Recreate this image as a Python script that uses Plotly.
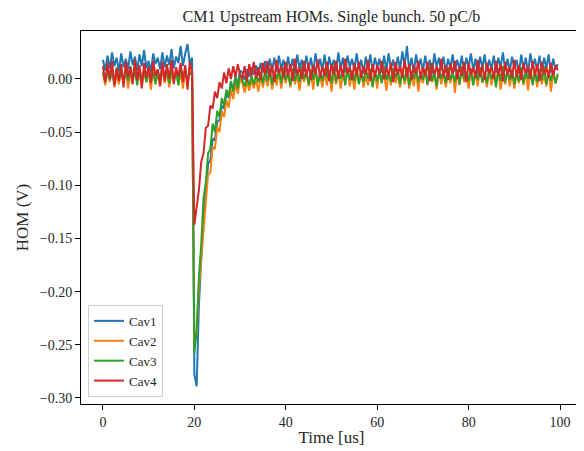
import plotly.graph_objects as go

# HOM signals in mV, sampled every 0.5 us (index 40 = 20 us, bunch passage)
t_step_us = 0.5

cav1_mv = [
    18, 8, 22, 10, 25, 12, 20, 7, 24, 11,
    19, 9, 26, 13, 21, 8, 23, 12, 27, 10,
    17, 7, 24, 14, 20, 9, 25, 11, 22, 13,
    28, 10, 21, 15, 31, 12, 24, 33, 14, 20,
    -278, -289, -212, -175, -128, -108, -80, -76, -56, -58,
    -40, -39, -25, -28, -14, -18, -4, -10, 2, -5, 8,
    6, -1, 9, 2, 11, 4, 13, 3, 15, 6,
    17, 5, 19, 8, 20, 7, 22, 9, 18, 6,
    21, 8, 19, 5, 23, 10, 18, 7, 22, 9,
    20, 6, 24, 11, 19, 8, 23, 5, 21, 10,
    18, 7, 25, 9, 20, 6, 22, 11, 19, 8,
    24, 10, 18, 5, 21, 9, 23, 7, 20, 11,
    19, 6, 22, 8, 24, 10, 18, 7, 21, 9,
    26, 12, 31, 8, 20, 6, 23, 10, 19, 7,
    22, 9, 18, 5, 24, 11, 20, 8, 21, 6,
    19, 10, 23, 7, 18, 9, 22, 6, 20, 11,
    24, 8, 19, 5, 21, 10, 23, 7, 18, 9,
    22, 6, 20, 11, 25, 8, 19, 7, 21, 10,
    18, 5, 23, 9, 20, 6, 24, 11, 19, 8,
    22, 7, 20, 10, 23, 6, 19, 9, 14,
]

cav2_mv = [
    5, -6, 8, -3, 10, -8, 4, -5, 9, -2,
    7, -9, 6, -4, 11, -1, 5, -7, 8, -3,
    6, -10, 9, -2, 4, -6, 10, -4, 7, -8,
    5, -3, 9, -5, 6, -9, 8, -1, 7, 3,
    -250, -240, -196, -170, -142, -118, -90, -88, -64, -66,
    -45, -50, -30, -36, -20, -27, -10, -19, -4, -14, 0,
    -4, -13, -2, -11, -1, -9, 0, -12, 2, -8,
    4, -7, 6, -10, 3, -6, 8, -9, 5, -4,
    7, -8, 9, -5, 4, -11, 6, -3, 8, -7,
    5, -10, 10, -4, 3, -8, 7, -6, 9, -12,
    6, -5, 8, -9, 4, -3, 11, -7, 5, -10,
    7, -4, 9, -8, 3, -6, 10, -5, 6, -9,
    8, -3, 5, -11, 7, -6, 9, -4, 4, -8,
    10, -5, 6, -9, 3, -7, 8, -12, 5, -4,
    9, -6, 7, -3, 4, -10, 8, -5, 6, -8,
    5, -4, 9, -13, 7, -6, 10, -3, 4, -9,
    8, -5, 6, -7, 11, -4, 5, -8, 9, -6,
    7, -3, 8, -10, 4, -5, 10, -7, 6, -9,
    5, -4, 9, -6, 7, -11, 8, -3, 6, -8,
    10, -5, 4, -7, 9, -12, 6, -4, 3,
]

cav3_mv = [
    7, -3, 10, -1, 8, -5, 11, 0, 6, -4,
    9, -2, 12, 1, 7, -6, 10, -1, 8, -3,
    11, 0, 6, -5, 9, -2, 12, 2, 7, -4,
    10, -1, 8, -6, 11, 1, 9, -3, 6, 4,
    -258, -236, -186, -156, -112, -98, -70, -66, -42, -50,
    -30, -36, -18, -25, -10, -17, -2, -12, 3, -9, 5,
    -1, -7, 1, -6, 3, -5, 4, -3, 6, -4,
    8, -2, 10, -5, 7, 0, 9, -4, 11, -1,
    6, -6, 10, -2, 8, -3, 12, 0, 7, -5,
    9, -1, 11, -7, 6, -2, 10, 1, 8, -4,
    12, -3, 7, 0, 9, -6, 10, -1, 8, -2,
    11, -5, 6, -3, 10, 0, 9, -8, 7, -2,
    8, -4, 12, -1, 6, -3, 10, 1, 9, -5,
    7, -2, 11, -6, 8, 0, 10, -3, 6, -1,
    9, -5, 12, -2, 7, -7, 10, 0, 8, -4,
    11, -1, 6, -3, 9, -5, 12, 0, 7, -2,
    10, -6, 8, -1, 11, -3, 6, -4, 9, 0,
    7, -8, 10, -2, 12, -3, 8, -1, 9, -5,
    6, -2, 11, -4, 8, 0, 10, -6, 7, -3,
    9, -1, 12, -5, 6, -2, 8, -4, 5,
]

cav4_mv = [
    12, -3, 15, 0, 17, -6, 10, -2, 14, -8,
    16, 2, 11, -5, 18, -1, 13, -9, 15, 1,
    12, -4, 17, 3, 9, -7, 16, -2, 14, 0,
    18, -5, 11, 2, 15, -3, 13, -10, 16, 6,
    -137, -118, -104, -78, -70, -46, -44, -25, -28, -12,
    -18, -3, -9, 6, -4, 10, 0, 12, 2, 14, 4,
    0, 12, -2, 14, 3, 16, 1, 11, -1, 15,
    4, 17, 2, 13, -3, 18, 5, 12, 1, 16,
    3, 14, -2, 19, 4, 11, 0, 17, 2, 15,
    -1, 13, 5, 18, 1, 12, 3, 16, -2, 14,
    4, 17, 0, 13, 2, 19, 5, 11, -1, 15,
    3, 16, 1, 12, 4, 18, -2, 14, 2, 13,
    5, 17, 0, 11, 3, 15, -3, 16, 4, 12,
    1, 18, 2, 14, -1, 13, 5, 17, 0, 11,
    3, 16, -2, 15, 4, 12, 1, 19, 2, 13,
    -1, 14, 5, 17, 0, 12, 3, 16, -3, 15,
    4, 11, 1, 18, 2, 13, -1, 15, 5, 12,
    0, 17, 3, 14, -2, 16, 4, 11, 1, 18,
    2, 13, -1, 15, 5, 12, 0, 17, 3, 14,
    -2, 16, 4, 11, 1, 15, 3, 13, 8,
]

series = [
    ("Cav1", cav1_mv, "#1f77b4"),
    ("Cav2", cav2_mv, "#ff7f0e"),
    ("Cav3", cav3_mv, "#2ca02c"),
    ("Cav4", cav4_mv, "#d62728"),
]

serif = "Liberation Serif"

fig = go.Figure()
for name, vals, color in series:
    t = [i * t_step_us for i in range(len(vals))]
    fig.add_trace(go.Scatter(
        x=t,
        y=[v / 1000 for v in vals],
        mode="lines",
        name=name,
        line=dict(color=color, width=2),
    ))

# the page body keeps an 8 px margin, so the figure is 8 px smaller than the window
fig.update_layout(
    width=576,
    height=443,
    margin=dict(l=73, r=2, t=23, b=47, autoexpand=False),
    plot_bgcolor="white",
    paper_bgcolor="white",
    font=dict(family=serif, size=14, color="#262626"),
    title=dict(
        text="CM1 Upstream HOMs. Single bunch. 50 pC/b",
        x=0.5616, xanchor="center",
        y=0.98, yanchor="middle",
        font=dict(family=serif, size=16, color="#262626"),
        automargin=False,
    ),
    legend=dict(
        x=0.014, y=0.019, xanchor="left", yanchor="bottom",
        bgcolor="rgba(255,255,255,0.8)",
        bordercolor="#cccccc", borderwidth=1,
        font=dict(family=serif, size=13),
        tracegroupgap=0,
    ),
    xaxis=dict(
        range=[-4.8, 104.8],
        tickvals=[0, 20, 40, 60, 80, 100],
        showgrid=False, zeroline=False, automargin=False,
        showline=True, linecolor="black", linewidth=1, mirror=True,
        ticks="outside", ticklen=5, tickcolor="black",
        title=dict(text="Time [us]", standoff=2),
    ),
    yaxis=dict(
        range=[-0.3057, 0.0451],
        tickvals=[0.0, -0.05, -0.10, -0.15, -0.20, -0.25, -0.30],
        tickformat=".2f",
        showgrid=False, zeroline=False, automargin=False,
        showline=True, linecolor="black", linewidth=1, mirror=True,
        ticks="outside", ticklen=5, tickcolor="black",
        title=dict(text="HOM (V)", standoff=6),
    ),
)

fig.write_html("out.html")
